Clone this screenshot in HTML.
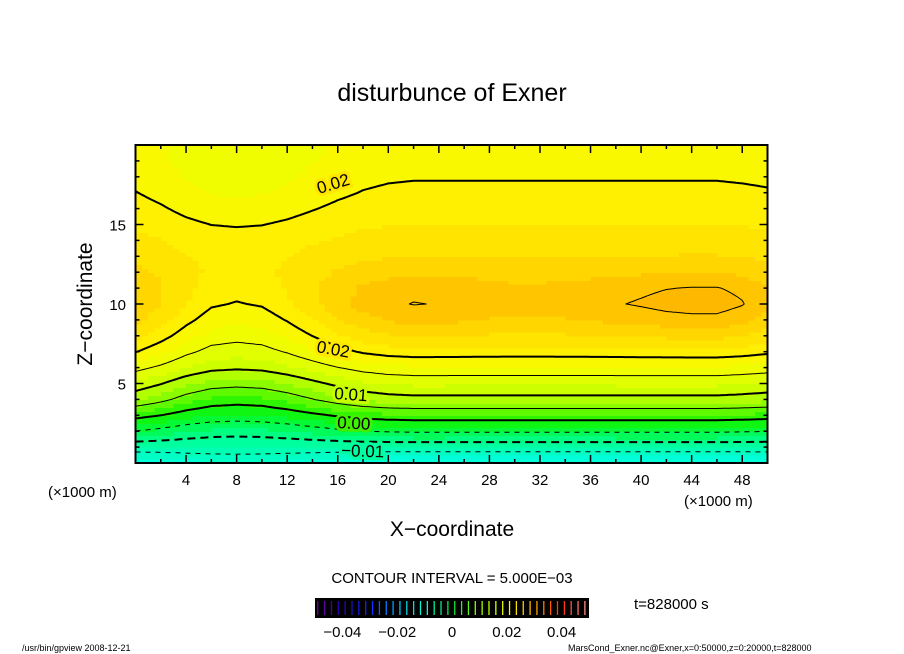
<!DOCTYPE html>
<html><head><meta charset="utf-8">
<style>
html,body{margin:0;padding:0;background:#fff;}
svg{display:block;font-family:"Liberation Sans",sans-serif;}
</style></head>
<body>
<svg id="chart" width="904" height="654" viewBox="0 0 904 654">
<text x="452" y="101" text-anchor="middle" font-size="25">disturbunce of Exner</text>
<g id="fillg"></g>
<g id="linesg"></g>
<g id="labelsg" font-size="17"></g>
<rect x="135.5" y="145" width="632" height="318" fill="none" stroke="#000" stroke-width="2"/>
<g id="ticksg"></g>
<text x="48" y="497" font-size="15">(×1000 m)</text>
<text x="684" y="506" font-size="15">(×1000 m)</text>
<text x="452" y="536" text-anchor="middle" font-size="21">X−coordinate</text>
<text transform="translate(92,304) rotate(-90)" text-anchor="middle" font-size="21">Z−coordinate</text>
<text x="452" y="583" text-anchor="middle" font-size="15">CONTOUR INTERVAL = 5.000E−03</text>
<g id="cbarg"></g>
<text x="634" y="609" font-size="15">t=828000 s</text>
<text x="22" y="651" font-size="9">/usr/bin/gpview   2008-12-21</text>
<text x="568" y="651" font-size="9">MarsCond_Exner.nc@Exner,x=0:50000,z=0:20000,t=828000</text>
</svg>
<script>
// ---- data ----
const zLevels = [0,1,2,3,4,5,6,7,8,9,10,11,12,13,14,15,16,17,18,19,20];
const ridgeProfile = [-0.021,-0.0125,-0.0045,0.002,0.009,0.013,0.017,0.0215,0.025,0.028,0.0298,0.029,0.027,0.025,0.0237,0.0225,0.0215,0.0206,0.0198,0.0192,0.0186];
const troughProfile = [-0.0175,-0.013,-0.0085,-0.003,0.0015,0.006,0.0105,0.0135,0.016,0.018,0.0198,0.021,0.0218,0.0218,0.021,0.0198,0.0185,0.0172,0.0165,0.016,0.0158];
const xNodes = [0,2,4,6,8,10,12,14,16,18,20,22,24,26,28,30,32,34,36,38,40,42,44,46,48,50];
const troughWeight = [0.15,0.4,0.72,0.94,1,0.95,0.78,0.55,0.32,0.14,0.04,0,0,0,0,0,0,0,0,0,0,0,0,0,0.04,0.1];
const peakAdjust = [-0.0012,-0.0012,0,0,0,0,0,0,0,0,0.0001,0.0003,0.0001,-0.0002,-0.0008,-0.0012,-0.0012,-0.0008,-0.0004,0,0.0005,0.0011,0.0014,0.0014,0.0008,-0.0008];
const contourLevels = [-0.015,-0.01,-0.005,0,0.005,0.01,0.015,0.02,0.03];
const xTickLabels = [4,8,12,16,20,24,28,32,36,40,44,48];
const zTickLabels = [5,10,15];
const cbarLabels = ["−0.04","−0.02","0","0.02","0.04"];
const cbarValues = [-0.04,-0.02,0,0.02,0.04];

// ---- axes ----
const X0=135.5, XS=632/50, Y0=463, ZS=318/20;
const sx = x => X0 + x*XS;
const sz = z => Y0 - z*ZS;
const NS="http://www.w3.org/2000/svg";
function mk(tag, attrs, parent){const e=document.createElementNS(NS,tag);for(const k in attrs)e.setAttribute(k,attrs[k]);parent.appendChild(e);return e;}

function interp(xa, ya, x){
  if(x<=xa[0])return ya[0];
  for(let i=1;i<xa.length;i++){ if(x<=xa[i]){const t=(x-xa[i-1])/(xa[i]-xa[i-1]);return ya[i-1]+t*(ya[i]-ya[i-1]);} }
  return ya[ya.length-1];
}
function field(x,z){
  const w=interp(xNodes,troughWeight,x);
  const r=interp(zLevels,ridgeProfile,z), t=interp(zLevels,troughProfile,z);
  const g=(z-10)/2.2;
  const pa=interp(xNodes,peakAdjust,x)*Math.exp(-g*g);
  return r*(1-w)+t*w+pa*(1-w);
}
const cAnch=[[-0.025,[0,245,240]],[-0.02,[0,255,225]],[-0.01,[0,255,150]],[-0.005,[0,250,70]],[0,[20,245,0]],[0.005,[120,250,0]],[0.01,[195,255,0]],[0.015,[235,255,0]],[0.02,[255,245,0]],[0.025,[255,222,0]],[0.03,[255,190,0]],[0.035,[255,165,0]]];
function colorOf(v){
  const q=(Math.floor(v/0.0025)+0.5)*0.0025;
  let c=cAnch[cAnch.length-1][1];
  if(q<=cAnch[0][0])c=cAnch[0][1];
  else for(let i=1;i<cAnch.length;i++){if(q<=cAnch[i][0]){const t=(q-cAnch[i-1][0])/(cAnch[i][0]-cAnch[i-1][0]);c=cAnch[i-1][1].map((a,j)=>Math.round(a+t*(cAnch[i][1][j]-a)));break;}}
  return "rgb("+c[0]+","+c[1]+","+c[2]+")";
}

// ---- fill ----
const fillG=document.getElementById('fillg');
const NX=100, NZ=80, dx=50/NX, dz=20/NZ;
for(let i=0;i<NX;i++)for(let j=0;j<NZ;j++){
  const v=field((i+0.5)*dx,(j+0.5)*dz);
  const r=mk('rect',{x:sx(i*dx),y:sz((j+1)*dz),width:XS*dx+0.6,height:ZS*dz+0.6,fill:colorOf(v),'shape-rendering':'crispEdges'},fillG);
  
  
}

// ---- contours (marching squares + stitching) ----
const linesG=document.getElementById('linesg');
const GX=200, GZ=160, gx=50/GX, gz=20/GZ;
const F=[];for(let i=0;i<=GX;i++){F.push([]);for(let j=0;j<=GZ;j++)F[i].push(field(i*gx,j*gz));}
function stitch(segs){
  const key=p=>p[0].toFixed(4)+","+p[1].toFixed(4);
  const map=new Map();
  segs.forEach((s,idx)=>{[0,1].forEach(e=>{const k=key(s[e]);if(!map.has(k))map.set(k,[]);map.get(k).push(idx);});});
  const used=new Array(segs.length).fill(false);
  const polys=[];
  function extend(poly){
    while(true){const end=poly[poly.length-1];const cand=(map.get(key(end))||[]).find(i=>!used[i]);
      if(cand===undefined)break;used[cand]=true;const s=segs[cand];
      poly.push(key(s[0])===key(end)?s[1]:s[0]);}
  }
  for(let i=0;i<segs.length;i++){if(used[i])continue;used[i]=true;
    let poly=[segs[i][0],segs[i][1]];extend(poly);poly.reverse();extend(poly);polys.push(poly);}
  return polys;
}
contourLevels.forEach(L=>{
  const segs=[];
  for(let i=0;i<GX;i++)for(let j=0;j<GZ;j++){
    const p=[[i,j],[i+1,j],[i+1,j+1],[i,j+1]];
    const pts=[];
    for(let k=0;k<4;k++){const a=p[k],b=p[(k+1)%4];const va=F[a[0]][a[1]]-L,vb=F[b[0]][b[1]]-L;
      if((va<0)!==(vb<0)){const t=va/(va-vb);pts.push([(a[0]+t*(b[0]-a[0]))*gx,(a[1]+t*(b[1]-a[1]))*gz]);}}
    for(let k=0;k+1<pts.length;k+=2)segs.push([pts[k],pts[k+1]]);
  }
  if(!segs.length)return;
  const polys=stitch(segs);
  let d='';
  polys.forEach(pl=>{pl.forEach((q,n)=>{d+=(n?"L":"M")+sx(q[0]).toFixed(1)+","+sz(q[1]).toFixed(1);});});
  const major=Math.abs(Math.round(L*1000)%10)===0 && L!==0.03;
  const path=mk('path',{d:d,fill:'none',stroke:'#000','stroke-width':major?2:1,'stroke-linejoin':'round'},linesG);
  if(L<0)path.setAttribute('stroke-dasharray',major?'8,5':'5,5');
  
  
});

// ---- contour labels ----
const labG=document.getElementById('labelsg');
[["0.02",319,194,-17,"#ffe600"],["0.02",316,352,10,"#ffe800"],["0.01",334,399,4,"#c8ff00"],["0.00",337,428,3,"#40f000"],["−0.01",341,456,2,"#00ffa0"]].forEach(l=>{
  const t=mk('text',{x:l[1],y:l[2],transform:"rotate("+l[3]+","+l[1]+","+l[2]+")",'paint-order':'stroke',stroke:l[4],'stroke-width':6},labG);
  t.textContent=l[0];
  
  
});

// ---- ticks ----
const tG=document.getElementById('ticksg');
for(let x=2;x<50;x+=2){const len=(x%4===0)?8:4;
  mk('line',{x1:sx(x),x2:sx(x),y1:463,y2:463-len,stroke:'#000','stroke-width':1.5},tG);
  mk('line',{x1:sx(x),x2:sx(x),y1:145,y2:145+len,stroke:'#000','stroke-width':1.5},tG);}
for(let z=1;z<20;z++){const len=(z%5===0)?8:4;
  mk('line',{x1:135.5,x2:135.5+len,y1:sz(z),y2:sz(z),stroke:'#000','stroke-width':1.5},tG);
  mk('line',{x1:767.5,x2:767.5-len,y1:sz(z),y2:sz(z),stroke:'#000','stroke-width':1.5},tG);}
xTickLabels.forEach(v=>{const t=mk('text',{x:sx(v),y:485,'text-anchor':'middle','font-size':15},tG);t.textContent=v;
  
  });
zTickLabels.forEach(v=>{const t=mk('text',{x:126,y:sz(v)+6,'text-anchor':'end','font-size':15},tG);t.textContent=v;
  
  });

// ---- colorbar ----
const cG=document.getElementById('cbarg');
const CB0=315, CB1=589, cbv=v=>CB0+(v+0.05)/0.1*(CB1-CB0);
mk('rect',{x:CB0,y:598,width:CB1-CB0,height:20,fill:'#000'},cG);
const cbStops=[[-0.05,[120,0,160]],[-0.04,[40,0,180]],[-0.03,[20,40,255]],[-0.02,[0,180,255]],[-0.01,[0,255,200]],[0,[0,230,60]],[0.01,[150,255,0]],[0.02,[255,255,0]],[0.03,[255,170,0]],[0.04,[255,40,0]],[0.05,[255,160,160]]];
function cbColor(v){for(let i=1;i<cbStops.length;i++)if(v<=cbStops[i][0]){const t=(v-cbStops[i-1][0])/(cbStops[i][0]-cbStops[i-1][0]);const c=cbStops[i-1][1].map((a,j)=>Math.round(a+t*(cbStops[i][1][j]-a)));return "rgb("+c.join(",")+")";}return 'rgb(255,160,160)';}
for(let v=-0.049;v<0.05;v+=0.0025){mk('line',{x1:cbv(v),x2:cbv(v),y1:601,y2:615,stroke:cbColor(v),'stroke-width':1.3},cG);}
cbarValues.forEach((v,i)=>{const t=mk('text',{x:cbv(v),y:637,'text-anchor':'middle','font-size':15},cG);t.textContent=cbarLabels[i];
  
  });
</script>
</body></html>
